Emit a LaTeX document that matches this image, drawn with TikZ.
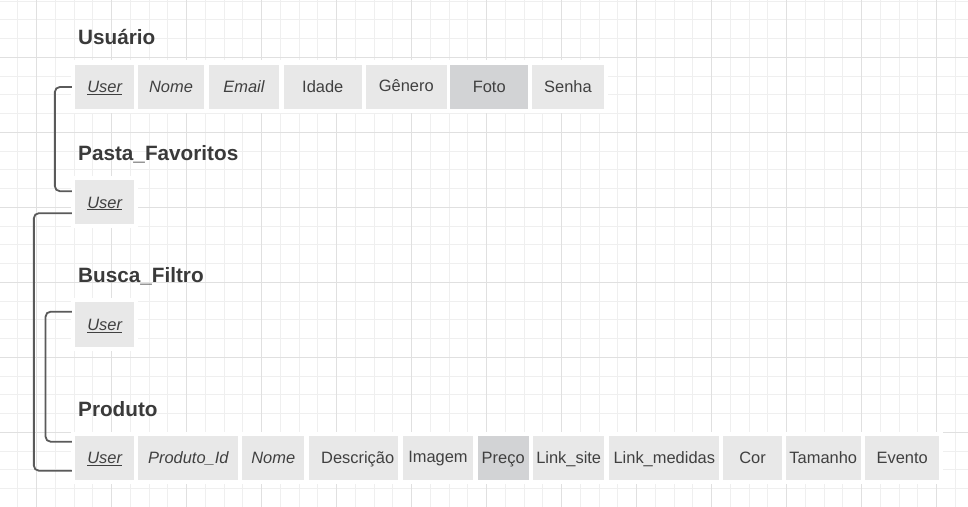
\documentclass[tikz,border=0pt]{standalone}
\usepackage{fontspec}
\setmainfont{Liberation Sans}
\usetikzlibrary{calc}
\definecolor{gridfine}{HTML}{EFEFEF}
\definecolor{gridbold}{HTML}{E0E0E0}
\definecolor{cellgray}{HTML}{E8E8E8}
\definecolor{celldark}{HTML}{D2D3D5}
\definecolor{textgray}{HTML}{404040}
\definecolor{titlegray}{HTML}{3A3A3A}
\definecolor{linkgray}{HTML}{5A5A5A}
\tikzset{
  cell/.style={fill=cellgray, inner sep=0pt, minimum height=44bp, text height=11.8bp, text depth=0bp, text=textgray, font=\fontsize{16.5}{20}\selectfont},
  darkcell/.style={cell, fill=celldark},
  lifted/.style={text depth=3bp},
  title/.style={anchor=base west, inner sep=0pt, text=titlegray, font=\fontsize{20.8}{24}\selectfont\bfseries},
  link/.style={draw=linkgray, line width=1.8bp, rounded corners=5bp},
}
\def\keyname#1{\itshape\underline{#1}}

\begin{document}
\begin{tikzpicture}[x=1bp, y=-1bp]
			%%%%% GRID %%%%%
			\useasboundingbox (0,0) rectangle (968,507);
			\fill[white] (0,0) rectangle (968,507);
			\foreach \k in {0,...,52} \draw[gridfine, line width=1bp] ({-0.8+18.75*\k},0) -- ++(0,507);
			\foreach \k in {0,...,27} \draw[gridfine, line width=1bp] (0,{1.05+18.75*\k}) -- ++(968,0);
			\foreach \k in {0,...,12} \draw[gridbold, line width=1bp] ({36.7+75*\k},0) -- ++(0,507);
			\foreach \k in {0,...,5} \draw[gridbold, line width=1bp] (0,{57.3+75*\k}) -- ++(968,0);
			
			\fill[white] (71,60) rectangle (608,113);
			\fill[white] (71,176) rectangle (138,228);
			\fill[white] (71,298) rectangle (138,351);
			\fill[white] (71,432) rectangle (943,484);
			
			%%%%% USUARIO %%%%%
			\node[title] (tUsuario) at (78,45) {Usuário};
			\node[cell, minimum width=59.3bp] (uUser) at (104.7,87) {\keyname{User}};
			\node[cell, minimum width=66.6bp] (uNome) at (171,87) {\itshape Nome};
			\node[cell, minimum width=70bp] (uEmail) at (244,87) {\itshape Email};
			\node[cell, minimum width=77.7bp] (uIdade) at (322.8,87) {Idade};
			\node[cell, lifted, minimum width=80.7bp] (uGenero) at (406.3,87) {Gênero};
			\node[darkcell, minimum width=77.7bp] (uFoto) at (489.2,87) {Foto};
			\node[cell, minimum width=72bp] (uSenha) at (568,87) {Senha};
			
			%%%%% PASTA_FAVORITOS %%%%%
			\node[title] (tPasta) at (78,160.7) {Pasta\_Favoritos};
			\node[cell, minimum width=59.3bp] (pUser) at (104.7,202.2) {\keyname{User}};
			
			%%%%% BUSCA_FILTRO %%%%%
			\node[title] (tBusca) at (78,282.7) {Busca\_Filtro};
			\node[cell, minimum width=59.3bp] (bUser) at (104.7,324.5) {\keyname{User}};
			
			%%%%% PRODUTO %%%%%
			\node[title] (tProduto) at (78,416.7) {Produto};
			\node[cell, minimum width=59.3bp] (rUser) at (104.7,458) {\keyname{User}};
			\node[cell, minimum width=100bp] (rId) at (188.3,458) {\itshape Produto\_Id};
			\node[cell, minimum width=62bp] (rNome) at (273.3,458) {\itshape Nome};
			\node[cell, minimum width=89.3bp] (rDescricao) at (353.7,458) {\hspace*{8bp}Descrição};
			\node[cell, lifted, minimum width=70.6bp] (rImagem) at (438,458) {Imagem};
			\node[darkcell, minimum width=51bp] (rPreco) at (503.2,458) {Preço};
			\node[cell, minimum width=71.3bp] (rSite) at (568.7,458) {Link\_site};
			\node[cell, minimum width=110bp] (rMedidas) at (664.3,458) {Link\_medidas};
			\node[cell, minimum width=58.4bp] (rCor) at (752.5,458) {Cor};
			\node[cell, minimum width=74.7bp] (rTamanho) at (823.3,458) {Tamanho};
			\node[cell, minimum width=74.3bp] (rEvento) at (902.2,458) {Evento};
			
			%%%%% LINKS %%%%%
			\coordinate (aUser) at ([xshift=-3bp]uUser.west);
			\coordinate (aPasta) at ([xshift=-3bp, yshift=11bp]pUser.west);
			\draw[link] (aUser) -- ++(-17,0) |- (aPasta);
			
			\coordinate (bPasta) at ([xshift=-3bp, yshift=-11bp]pUser.west);
			\coordinate (bProduto) at ([xshift=-3bp, yshift=-12.7bp]rUser.west);
			\draw[link] (bPasta) -- ++(-38,0) |- (bProduto);
			
			\coordinate (cBusca) at ([xshift=-3bp, yshift=12.8bp]bUser.west);
			\coordinate (cProduto) at ([xshift=-3bp, yshift=16.3bp]rUser.west);
			\draw[link] (cBusca) -- ++(-26.3,0) |- (cProduto);
			
			%%%%% END %%%%%
		\end{tikzpicture}
\end{document}
